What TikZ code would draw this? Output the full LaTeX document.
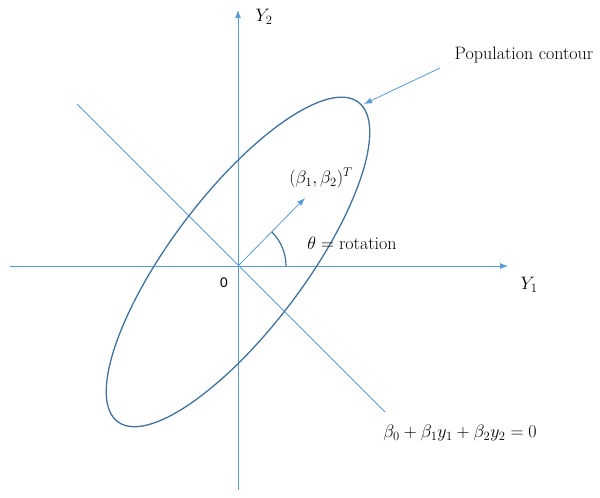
\RequirePackage{fix-cm}
\documentclass[tikz,border=0pt]{standalone}
\usepackage{amsmath}
\usepackage{fontspec}
\newfontfamily\zerofont{Carlito}
\usetikzlibrary{arrows.meta}
\definecolor{axisblue}{HTML}{5B9BD5}
\definecolor{ellblue}{HTML}{41719C}
\tikzset{
  axis/.style={draw=axisblue, line width=0.8pt},
  tiparrow/.style={-{Latex[length=8pt,width=6pt]}},
  lbl/.style={inner sep=0pt, font=\fontsize{18}{21}\selectfont},
}
\begin{document}
\begin{tikzpicture}[x=1pt,y=1pt]
\useasboundingbox (0,0) rectangle (600,498);
% coordinates
\coordinate (O) at (238,232);
\coordinate (xl) at (10,232);
\coordinate (xr) at (508,232);
\coordinate (yb) at (238,8);
\coordinate (yt) at (238,488);
\coordinate (dl) at (77,394);
\coordinate (dr) at (385,86);
\coordinate (vt) at (305,300);
\coordinate (cs) at (440,430);
\coordinate (ce) at (364,394);
\coordinate (ec) at (238,236);
% axes
\draw[axis, tiparrow] (xl) -- (xr);
\draw[axis, tiparrow] (yb) -- (yt);
% diagonal line
\draw[axis] (dl) -- (dr);
% ellipse
\draw[ellblue, line width=1.3pt, rotate around={53:(ec)}] (ec) ellipse [x radius=200, y radius=67];
% beta vector
\draw[axis, tiparrow] (O) -- (vt);
% angle arc
\draw[ellblue, line width=1.2pt] ([xshift=48pt]O) arc[start angle=0, end angle=45, radius=48];
% callout
\draw[axis, tiparrow] (cs) -- (ce);
% labels
\node[lbl] (y2) at (264,481) {$Y_2$};
\node[lbl] (y1) at (529,213) {$Y_1$};
\node[lbl, font=\fontsize{15}{18}\selectfont] (zero) at (224,215) {\zerofont 0};
\node[lbl] (pop) at (524,443) {Population contour};
\node[lbl] (beta) at (321,320) {$(\beta_1,\beta_2)^T$};
\node[lbl] (theta) at (352,255) {$\theta = \text{rotation}$};
\node[lbl] (eq) at (460,65) {$\beta_0+\beta_1 y_1+\beta_2 y_2 = 0$};
\end{tikzpicture}
\end{document}
